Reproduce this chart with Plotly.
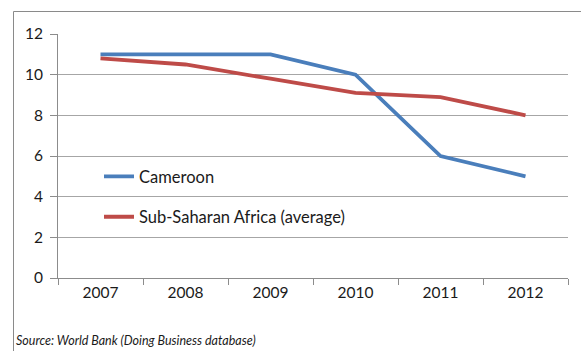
import plotly.graph_objects as go

# Years on the category axis
years = ["2007", "2008", "2009", "2010", "2011", "2012"]

# Series values
cameroon = [11, 11, 11, 10, 6, 5]
ssa_average = [10.8, 10.5, 9.8, 9.1, 8.9, 8.0]

# Y-axis ticks
y_ticks = [0, 2, 4, 6, 8, 10, 12]

W, H = 581, 351
ML, MR, MT, MB = 58, 13, 34, 73
plot_w = W - ML - MR
plot_h = H - MT - MB


def px_x(x):
    return (x - ML) / plot_w


def px_y(y):
    return (H - MB - y) / plot_h


FONT = "Lato, Calibri, Carlito, sans-serif"
GRID = "#a6a6a6"
AXIS = "#8c8c8c"

fig = go.Figure()
fig.add_trace(go.Scatter(
    x=years, y=cameroon, mode="lines", name="Cameroon",
    line=dict(color="#4a7ebb", width=3.8), legend="legend",
))
fig.add_trace(go.Scatter(
    x=years, y=ssa_average, mode="lines", name="Sub-Saharan Africa (average)",
    line=dict(color="#be4b48", width=3.8), legend="legend2",
))

legend_common = dict(
    xanchor="left", yanchor="middle", bgcolor="rgba(0,0,0,0)",
    font=dict(family=FONT, size=16.5, color="#1a1a1a"), borderwidth=0,
)

fig.update_layout(
    width=W, height=H,
    margin=dict(l=ML, r=MR, t=MT, b=MB),
    paper_bgcolor="white", plot_bgcolor="white",
    font=dict(family=FONT, size=15, color="#1a1a1a"),
    legend=dict(x=px_x(99), y=px_y(176.7), **legend_common),
    legend2=dict(x=px_x(99), y=px_y(217), **legend_common),
    xaxis=dict(
        type="category", tickson="boundaries", ticks="outside", ticklen=6,
        tickcolor=AXIS, showline=True, linecolor=AXIS, linewidth=1,
        showgrid=False, zeroline=False, fixedrange=True,
        tickfont=dict(family=FONT, size=15.5, color="#1a1a1a"),
        range=[-0.5, 5.5],
    ),
    yaxis=dict(
        range=[0, 12], tickvals=y_ticks, ticks="outside", ticklen=7,
        tickcolor=AXIS, showline=True, linecolor=AXIS, linewidth=1,
        showgrid=True, gridcolor=GRID, gridwidth=1, zeroline=False,
        ticklabelstandoff=4,
        tickfont=dict(family=FONT, size=15.5, color="#1a1a1a"),
    ),
    shapes=[
        # outer chart frame (left and top edges)
        dict(type="path", xref="paper", yref="paper",
             path=f"M {px_x(W + 2)} {px_y(11.5)} L {px_x(13.5)} {px_y(11.5)} L {px_x(13.5)} {px_y(H + 2)}",
             line=dict(color="#8a8a8a", width=1)),
    ],
    annotations=[
        dict(text="<i>Source: World Bank (Doing Business database)</i>",
             xref="paper", yref="paper", x=px_x(14), y=px_y(340),
             xanchor="left", yanchor="middle", showarrow=False,
             font=dict(family=FONT, size=12.5, color="#1a1a1a")),
    ],
    showlegend=True,
)

fig.write_html("out.html")
